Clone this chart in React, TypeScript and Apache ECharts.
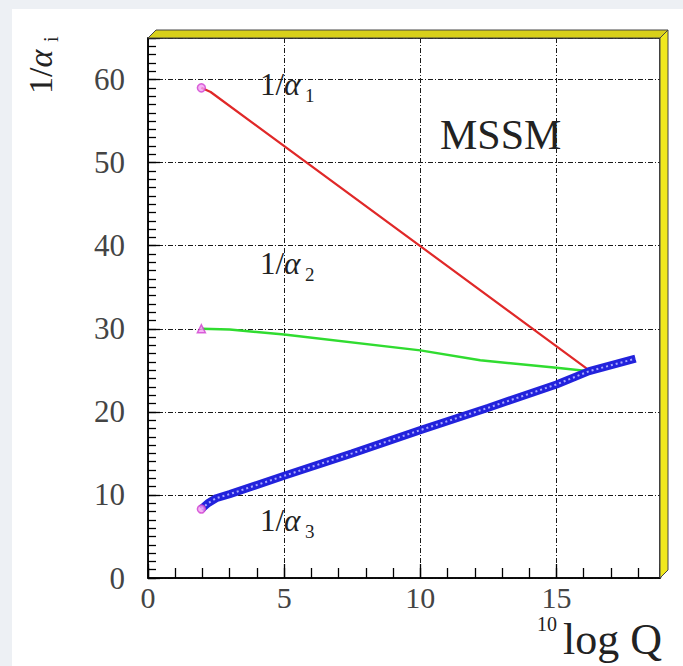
import React, { useEffect, useRef } from "react";
import * as echarts from "echarts";

// ---- data ----
const xMajorTicks = [0, 5, 10, 15];
const yMajorTicks = [0, 10, 20, 30, 40, 50, 60];
const alpha1X = [1.96, 2.3, 16.2];
const alpha1Y = [59.0, 58.5, 25.0];
const alpha2X = [1.96, 3, 5, 10, 12.2, 15, 16.2];
const alpha2Y = [30.0, 29.9, 29.3, 27.4, 26.2, 25.3, 24.9];
const alpha3X = [1.96, 2.2, 2.5, 3, 5, 7.5, 10, 12.5, 15, 16.2, 17.9];
const alpha3Y = [8.3, 9.0, 9.6, 10.1, 12.3, 15.0, 17.8, 20.5, 23.3, 24.9, 26.4];
const startX = [1.96, 1.96, 1.96];
const startY = [59.0, 30.0, 8.3];
const startSymbols = ["circle", "triangle", "circle"];

const X_MAX = 18.8;
const Y_MAX = 65;

const L = 148, T = 38, R = 660, B = 578;
const FONT = "'Liberation Serif', 'DejaVu Serif', serif";

const pts = (xs: number[], ys: number[]) => xs.map((x, i) => [x, ys[i]]);

export default function App() {
  const ref = useRef<HTMLDivElement>(null);
  useEffect(() => {
    if (!ref.current) return;
    const chart = echarts.init(ref.current, undefined, { renderer: "svg" });
    const gridLine = { color: "#1a1a1a", width: 1, type: [5, 2, 1, 2] as any };
    const d = 8;
    const text = (t: string, x: number, y: number, size: number, extra: any = {}) => ({
      type: "text",
      x,
      y,
      style: { text: t, font: `${size}px ${FONT}`, fill: "#222", textAlign: "left", textVerticalAlign: "middle", ...extra },
      z: 120,
    });
    const alphaLabel = (x: number, y: number, sub: string) => [
      {
        type: "text", x, y, z: 120,
        style: {
          text: "{n|1/}{g|α}",
          textAlign: "left", textVerticalAlign: "middle",
          rich: {
            n: { fontFamily: FONT, fontSize: 31, fill: "#222", color: "#222" },
            g: { fontFamily: FONT, fontSize: 31, fontStyle: "italic", fill: "#222", color: "#222" },
          },
        },
      },
      text(sub, x + 45, y + 11, 19),
    ];
    chart.setOption({
      animation: false,
      backgroundColor: "transparent",
      grid: { left: L, top: T, width: R - L, height: B - T, show: true, backgroundColor: "#fff", borderColor: "#000", borderWidth: 1.5 },
      xAxis: [
        {
          type: "value", min: 0, max: X_MAX, interval: 1, position: "bottom",
          axisLine: { show: true, lineStyle: { color: "#000", width: 1.5 } },
          axisTick: { show: true, inside: true, length: 10, lineStyle: { color: "#000", width: 1.3 } },
          axisLabel: { show: false }, splitLine: { show: false },
        },
        {
          type: "value", min: 0, max: X_MAX, interval: 5, position: "bottom",
          axisLine: { show: false },
          axisTick: { show: true, inside: true, length: 14, lineStyle: { color: "#000", width: 1.3 } },
          axisLabel: {
            fontFamily: FONT, fontSize: 30, color: "#444", margin: 4,
            formatter: (v: number) => (xMajorTicks.includes(v) ? String(v) : ""),
          },
          splitLine: { show: true, lineStyle: gridLine },
        },
      ],
      yAxis: [
        {
          type: "value", min: 0, max: Y_MAX, interval: 1, position: "left",
          axisLine: { show: true, lineStyle: { color: "#000", width: 1.5 } },
          axisTick: { show: true, inside: true, length: 8, lineStyle: { color: "#000", width: 1.3 } },
          axisLabel: { show: false }, splitLine: { show: false },
        },
        {
          type: "value", min: 0, max: Y_MAX, interval: 10, position: "left",
          axisLine: { show: false },
          axisTick: { show: true, inside: true, length: 12, lineStyle: { color: "#000", width: 1.3 } },
          axisLabel: {
            fontFamily: FONT, fontSize: 31, color: "#444", margin: 23,
            formatter: (v: number) => (yMajorTicks.includes(v) ? String(v) : ""),
          },
          splitLine: { show: true, lineStyle: gridLine },
        },
      ],
      series: [
        {
          type: "line", xAxisIndex: 0, yAxisIndex: 0, data: pts(alpha1X, alpha1Y),
          showSymbol: false, lineStyle: { color: "#e02828", width: 2.2 }, z: 5,
        },
        {
          type: "line", xAxisIndex: 0, yAxisIndex: 0, data: pts(alpha2X, alpha2Y),
          showSymbol: false, lineStyle: { color: "#30dc30", width: 2.5 }, z: 5,
        },
        {
          type: "line", xAxisIndex: 0, yAxisIndex: 0, data: pts(alpha3X, alpha3Y),
          showSymbol: false, lineStyle: { color: "#2222dc", width: 8 }, z: 6,
        },
        {
          type: "line", xAxisIndex: 0, yAxisIndex: 0, data: pts(alpha3X, alpha3Y),
          showSymbol: false, lineStyle: { color: "#a8a8ff", width: 2, type: [2, 3] }, z: 7,
        },
        {
          type: "scatter", xAxisIndex: 0, yAxisIndex: 0,
          data: startX.map((x, i) => ({ value: [x, startY[i]], symbol: startSymbols[i] })),
          symbolSize: 8,
          itemStyle: { color: "#f4a0f4", borderColor: "#d040d0", borderWidth: 1.5 }, z: 8,
        },
      ],
      graphic: [
        // ROOT-style yellow frame border
        {
          type: "polygon", z: 110,
          shape: { points: [[L, T], [L + d, T - d], [R + d, T - d], [R, T]] },
          style: { fill: "#d8d01a", stroke: "#444", lineWidth: 1 },
        },
        {
          type: "polygon", z: 110,
          shape: { points: [[R, T], [R + d, T - d], [R + d, B - d], [R, B]] },
          style: { fill: "#f0e81e", stroke: "#444", lineWidth: 1 },
        },
        // curve labels
        ...alphaLabel(260, 84, "1"),
        ...alphaLabel(260, 263, "2"),
        ...alphaLabel(260, 520, "3"),
        text("MSSM", 440, 135, 42),
        // y axis title (rotated)
        {
          type: "group", x: 40, y: 94, rotation: Math.PI / 2, z: 120,
          children: [
            {
              type: "text", x: 0, y: 0,
              style: {
                text: "{n|1/}{g|α}", textAlign: "left", textVerticalAlign: "middle",
                rich: {
                  n: { fontFamily: FONT, fontSize: 34, fill: "#222", color: "#222" },
                  g: { fontFamily: FONT, fontSize: 34, fontStyle: "italic", fill: "#222", color: "#222" },
                },
              },
            },
            { type: "text", x: 52, y: 11, style: { text: "i", font: `20px ${FONT}`, fill: "#222", textAlign: "left", textVerticalAlign: "middle" } },
          ],
        },
        // x axis title
        text("10", 537, 624, 20),
        text("log Q", 563, 639, 44),
      ],
    });
    return () => chart.dispose();
  }, []);
  return (
    <div style={{ position: "fixed", left: 0, top: 0, width: 683, height: 666, background: "#edf0f4" }}>
      <div style={{ position: "absolute", left: 12, top: 9, right: 0, bottom: 0, background: "#fff" }} />
      <div ref={ref} style={{ position: "absolute", left: 0, top: 0, width: 683, height: 666 }} />
    </div>
  );
}
